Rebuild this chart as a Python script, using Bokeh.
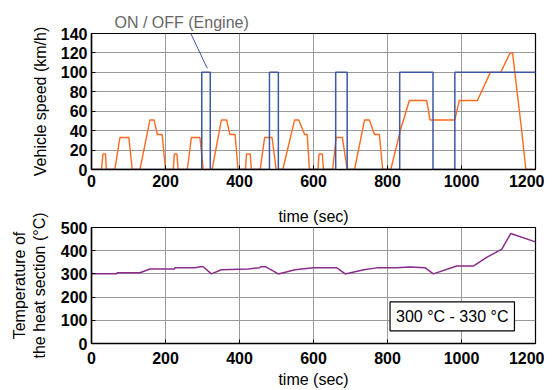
from bokeh.plotting import figure
from bokeh.layouts import column
from bokeh.models import Label, Arrow, LinearAxis, FixedTicker
from bokeh.embed import file_html
from bokeh.resources import INLINE

# ---- data ----
speed_t = [0, 27, 31, 38, 40, 63, 77, 101, 110, 131, 158, 169, 178, 191, 200,
           221, 224, 231, 234, 259, 270, 293, 302, 326, 351, 365, 374, 388, 396,
           416, 419, 429, 432, 456, 468, 488, 499, 517, 549, 560, 576, 583, 589,
           612, 615, 624, 627, 652, 661, 678, 691, 711, 738, 751, 765, 778, 787,
           809, 836, 859, 906, 915, 982, 994, 1043, 1078, 1106, 1131, 1138, 1162, 1174, 1200]
speed_v = [0, 0, 16, 16, 0, 0, 33, 33, 0, 0, 51, 51, 36, 36, 0,
           0, 16, 16, 0, 0, 33, 33, 0, 0, 51, 51, 36, 36, 0,
           0, 16, 16, 0, 0, 33, 33, 0, 0, 51, 51, 36, 36, 0,
           0, 16, 16, 0, 0, 33, 33, 0, 0, 51, 51, 36, 36, 0,
           0, 42, 71, 71, 51, 51, 71, 71, 100, 100, 120, 120, 42, 0, 0]

engine_t = [0, 298, 321, 481, 505, 660, 691, 833, 923, 982, 1200]
engine_v = [0, 100, 0, 100, 0, 100, 0, 100, 0, 100, 100]

temp_t = [0, 68, 70, 131, 158, 224, 226, 279, 295, 302, 324, 351, 424, 455, 457,
          470, 505, 550, 600, 663, 686, 736, 771, 825, 860, 902, 924, 987, 1032,
          1068, 1109, 1133, 1200]
temp_v = [301, 301, 305, 305, 321, 321, 327, 327, 331, 331, 300, 318, 321, 327, 331,
          331, 300, 318, 326, 326, 300, 318, 326, 326, 330, 326, 300, 334, 334,
          371, 407, 474, 438]

x_ticks = [0, 200, 400, 600, 800, 1000, 1200]
speed_ticks = [0, 20, 40, 60, 80, 100, 120, 140]
temp_ticks = [0, 100, 200, 300, 400, 500]

FONT = "Liberation Sans"
ORANGE = "#FF6A1F"
BLUE = "#3D56A6"
PURPLE = "#8A2C8C"


def style(p, yticks):
    p.xaxis.ticker = x_ticks
    p.yaxis.ticker = yticks
    for ax in (p.xaxis, p.yaxis):
        ax.major_label_text_font = FONT
        ax.major_label_text_font_size = "16px"
        ax.major_label_text_font_style = "bold"
        ax.major_label_text_color = "black"
        ax.axis_label_text_font = FONT
        ax.axis_label_text_font_size = "16px"
        ax.axis_label_text_font_style = "normal"
        ax.axis_label_text_color = "black"
        ax.axis_line_color = "black"
        ax.axis_line_width = 1.5
        ax.major_tick_in = 4
        ax.major_tick_out = 0
        ax.minor_tick_line_color = None
        ax.major_tick_line_color = "black"
    p.xaxis.major_label_standoff = 5
    p.yaxis.major_label_standoff = 4
    p.grid.grid_line_color = "#9a9a9a"
    p.grid.grid_line_width = 1
    p.outline_line_color = "black"
    p.outline_line_width = 1.2
    p.background_fill_color = "white"
    p.border_fill_color = "white"
    p.title.text_font = FONT
    p.title.text_font_size = "16px"
    p.title.text_font_style = "normal"


# ---- top chart ----
p1 = figure(frame_width=444, frame_height=136, x_range=(0, 1200), y_range=(0, 140),
            output_backend="svg", toolbar_location=None,
            min_border_left=91, min_border_right=9, min_border_top=33,
            min_border_bottom=23, title="ON / OFF (Engine)")
style(p1, speed_ticks)
p1.title.align = "left"
p1.title.offset = 23
p1.title.standoff = 6
p1.title.text_color = "#666666"
p1.yaxis.axis_label = "Vehicle speed (km/h)"
p1.yaxis.axis_label_standoff = 9

p1.line(speed_t, speed_v, line_color=ORANGE, line_width=1.4)
p1.step(engine_t, engine_v, mode="after", line_color=BLUE, line_width=1.5)

p1.add_layout(Arrow(end=None, x_start=261, y_start=146, x_end=313, y_end=104,
                    line_color=BLUE, line_width=1))

# ---- bottom chart (its title carries the top chart's x-axis label) ----
p2 = figure(frame_width=444, frame_height=116, x_range=(0, 1200), y_range=(0, 500),
            output_backend="svg", toolbar_location=None,
            min_border_left=91, min_border_right=9, min_border_top=35,
            min_border_bottom=47, title="time (sec)")
style(p2, temp_ticks)
p2.title.align = "center"
p2.title.standoff = 6
p2.title.text_color = "black"
p2.xaxis.axis_label = "time (sec)"
p2.yaxis.axis_label = "the heat section (°C)"
p2.xaxis.major_label_standoff = 8
p2.xaxis.axis_label_standoff = 4
p2.yaxis.axis_label_standoff = 10

# second (outer) label line carried by a bare axis
outer = LinearAxis(ticker=FixedTicker(ticks=[]), axis_line_color=None,
                   major_tick_line_color=None, minor_tick_line_color=None,
                   major_label_text_font_size="0px",
                   axis_label="Temperature of", axis_label_text_font=FONT,
                   axis_label_text_font_size="16px", axis_label_text_color="black",
                   axis_label_text_font_style="normal", axis_label_standoff=0)
p2.add_layout(outer, "left")

p2.line(temp_t, temp_v, line_color=PURPLE, line_width=1.5)

p2.add_layout(Label(x=975, y=117, text="300 °C - 330 °C", text_align="center",
                    text_baseline="middle", text_font=FONT, text_font_size="16px",
                    text_color="black", border_line_color="black",
                    border_line_width=1.2, background_fill_color="white",
                    padding=6))

layout = column(p1, p2, spacing=0)
open("out.html", "w").write(file_html(layout, INLINE))
